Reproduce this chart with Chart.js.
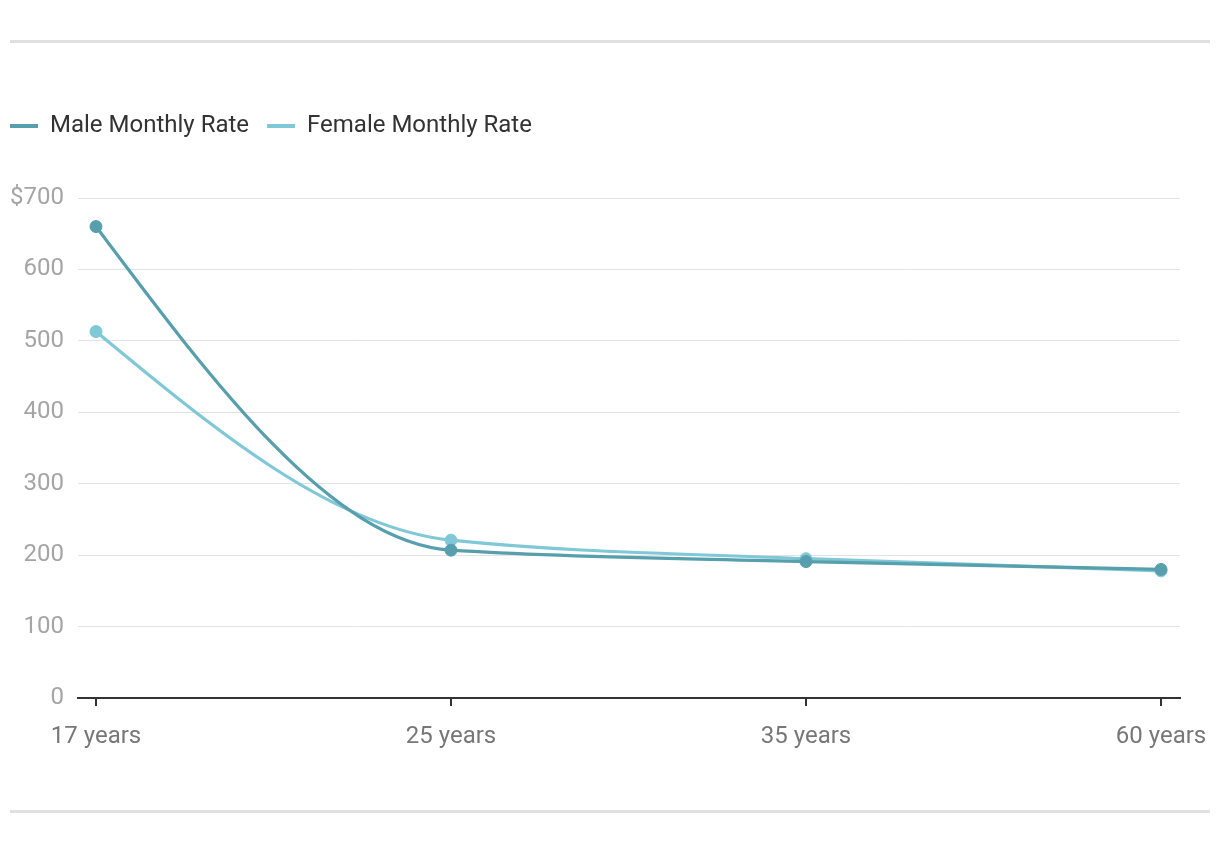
<!DOCTYPE html>
<html>
<head>
<meta charset="utf-8">
<script src="https://cdn.jsdelivr.net/npm/chart.js@4"></script>
<style>
  html, body { margin: 0; padding: 0; background: #fff; }
  #wrap { position: relative; width: 1220px; height: 844px; }
  .rule { position: absolute; left: 10px; width: 1200px; height: 3px; background: #e0e0e0; }
  #chart { position: absolute; left: 0; top: 0; }
</style>
</head>
<body>
<div id="wrap">
  <div class="rule" style="top:40px"></div>
  <canvas id="chart" width="1220" height="844"></canvas>
  <div class="rule" style="top:810px"></div>
</div>
<script>
// Categories + series
const ageLabels = ['17 years', '25 years', '35 years', '60 years'];
const maleRate = [660, 207, 191, 180];
const femaleRate = [513, 221, 195, 178];

const MALE_COLOR = '#579fad';
const FEMALE_COLOR = '#80c8d8';

// linear x so the axis can run a little past the first/last category
function toPoints(arr) {
  return arr.map((v, i) => ({ x: i, y: v }));
}

function lineSet(label, values, color) {
  return {
    label,
    data: toPoints(values),
    borderColor: color,
    backgroundColor: color,
    borderWidth: 3.2,
    pointRadius: 6,
    pointBorderWidth: 1,
    pointBackgroundColor: color,
    pointBorderColor: color,
    cubicInterpolationMode: 'monotone',
    fill: false,
  };
}

Chart.defaults.font.family = 'Roboto, "Noto Sans", sans-serif';
Chart.defaults.animation = false;

// Extra space between legend and plot
const legendGap = {
  id: 'legendGap',
  beforeInit(chart) {
    const fit = chart.legend.fit;
    chart.legend.fit = function () {
      fit.call(this);
      this.height += 50;
    };
  },
};

// Swap Chart.js monotone control points for monotoneX-style ones
// (steeper end tangents, like the source chart's curves)
function sgn(v) { return v < 0 ? -1 : v > 0 ? 1 : 0; }
const monotoneX = {
  id: 'monotoneX',
  beforeDatasetDraw(chart, args) {
    const line = args.meta.dataset;
    if (!line) return;
    line.updateControlPoints(chart.chartArea, 'x');
    const pts = line.points;
    const n = pts.length;
    if (n < 3) return;
    const h = [], s = [];
    for (let i = 0; i < n - 1; i++) {
      h[i] = pts[i + 1].x - pts[i].x;
      s[i] = (pts[i + 1].y - pts[i].y) / h[i];
    }
    const t = [];
    for (let i = 1; i < n - 1; i++) {
      const p = (s[i - 1] * h[i] + s[i] * h[i - 1]) / (h[i - 1] + h[i]);
      t[i] = (sgn(s[i - 1]) + sgn(s[i])) *
        Math.min(Math.abs(s[i - 1]), Math.abs(s[i]), 0.5 * Math.abs(p)) || 0;
    }
    t[0] = (3 * s[0] - t[1]) / 2;
    t[n - 1] = (3 * s[n - 2] - t[n - 2]) / 2;
    pts.forEach((pt, i) => {
      const hb = i > 0 ? h[i - 1] / 3 : 0;
      const ha = i < n - 1 ? h[i] / 3 : 0;
      pt.cp1x = pt.x - hb;
      pt.cp1y = pt.y - hb * t[i];
      pt.cp2x = pt.x + ha;
      pt.cp2y = pt.y + ha * t[i];
    });
    line._path = undefined;
  },
};

new Chart(document.getElementById('chart'), {
  type: 'line',
  data: {
    datasets: [
      lineSet('Male Monthly Rate', maleRate, MALE_COLOR),
      lineSet('Female Monthly Rate', femaleRate, FEMALE_COLOR),
    ],
  },
  plugins: [legendGap, monotoneX],
  options: {
    responsive: false,
    layout: { padding: { top: 96, right: 40, left: -8, bottom: 0 } },
    plugins: {
      legend: {
        position: 'top',
        align: 'start',
        labels: {
          boxWidth: 28,
          boxHeight: 4,
          padding: 18,
          color: '#333',
          font: { size: 24 },
          generateLabels: (chart) =>
            Chart.defaults.plugins.legend.labels.generateLabels(chart).map((it) => ({
              ...it,
              fillStyle: it.strokeStyle,
              lineWidth: 0,
            })),
        },
      },
      tooltip: { enabled: false },
    },
    scales: {
      x: {
        type: 'linear',
        min: -0.0507,
        max: 3.0535,
        afterBuildTicks: (s) => {
          s.ticks = ageLabels.map((_, i) => ({ value: i }));
        },
        afterFit: (s) => {
          s.height = 146;
          s.paddingLeft = 0;
          s.paddingRight = 0;
        },
        grid: {
          drawOnChartArea: false,
          drawTicks: true,
          tickLength: 8,
          color: '#333',
          lineWidth: 2,
        },
        border: { display: true, color: '#333', width: 2 },
        ticks: {
          color: '#777',
          font: { size: 24 },
          padding: 17,
          maxRotation: 0,
          callback: (v) => ageLabels[v] || '',
        },
      },
      y: {
        min: 0,
        max: 700,
        afterFit: (s) => { s.width = 86; },
        grid: { color: '#e3e3e3', lineWidth: 1, drawTicks: false },
        border: { display: false },
        ticks: {
          stepSize: 100,
          color: '#a5a5a5',
          font: { size: 24 },
          padding: 14,
          callback: (v) => (v === 700 ? '$700' : v),
        },
      },
    },
  },
});
</script>
</body>
</html>
